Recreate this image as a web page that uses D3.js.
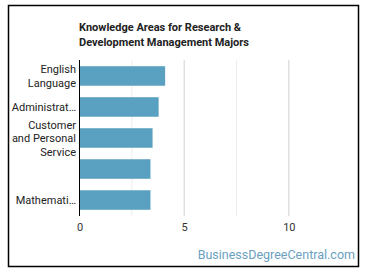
<!DOCTYPE html>
<html><head><meta charset="utf-8">
<script src="https://cdn.jsdelivr.net/npm/d3@7"></script>
<style>body{margin:0;background:#fff}svg{display:block;font-family:Roboto,"Open Sans",sans-serif}</style>
</head><body>
<svg id="c" width="370" height="278"></svg>
<script>
const categories = [["English","Language"],["Administrat…"],["Customer","and Personal","Service"],[""],["Mathemati…"]];
const values = [4.09, 3.78, 3.49, 3.39, 3.39];
const ticks = [0, 5, 10];
const minorTicks = [2.5, 7.5];
const titleLines = ["Knowledge Areas for Research &", "Development Management Majors"];

const svg = d3.select("#c");
svg.append("rect").attr("x",8.5).attr("y",5.5).attr("width",350).attr("height",261)
  .attr("fill","#fff").attr("stroke","#000").attr("stroke-width",1.5);

const x = d3.scaleLinear().domain([0, 12.5]).range([79.5, 341.2]);
const y = d3.scaleBand().domain(d3.range(values.length)).range([60, 216]).paddingInner(0.37).paddingOuter(0.2);

const g = svg.append("g");
g.selectAll(".minor").data(minorTicks).join("line")
  .attr("x1",d=>x(d)).attr("x2",d=>x(d)).attr("y1",60).attr("y2",216)
  .attr("stroke","#ececec").attr("stroke-width",1);
g.selectAll(".major").data(ticks.slice(1)).join("line")
  .attr("x1",d=>x(d)).attr("x2",d=>x(d)).attr("y1",60).attr("y2",216)
  .attr("stroke","#d0d0d0").attr("stroke-width",1);

g.selectAll("rect.bar").data(values).join("rect").attr("class","bar")
  .attr("x",x(0)).attr("y",(d,i)=>y(i)).attr("width",d=>x(d)-x(0)).attr("height",y.bandwidth())
  .attr("fill","#5aa0c0");

g.append("line").attr("x1",x(0)).attr("x2",x(0)).attr("y1",60).attr("y2",216).attr("stroke","#000").attr("stroke-width",1);

const xa = svg.append("g").attr("transform","translate(0,216)")
  .call(d3.axisBottom(x).tickValues(ticks).tickSize(0).tickPadding(7).tickFormat(d3.format("d")));
xa.select(".domain").remove();
xa.selectAll("text").attr("font-size",11).attr("fill","#333").attr("font-family","Roboto,sans-serif");

const lh = 13.5;
categories.forEach((lines,i)=>{
  const cy = y(i) + y.bandwidth()/2;
  const t = svg.append("text").attr("text-anchor","end").attr("font-size",11).attr("fill","#222");
  lines.forEach((ln,j)=>{
    t.append("tspan").attr("x",76).attr("y", cy + (j - (lines.length-1)/2)*lh + 4).text(ln);
  });
});

const tt = svg.append("text").attr("font-size",11).attr("font-weight","bold").attr("fill","#222");
titleLines.forEach((ln,j)=>tt.append("tspan").attr("x",79).attr("y",31+j*15).text(ln));

svg.append("text").attr("x",355).attr("y",259).attr("text-anchor","end").attr("font-size",12.5)
  .attr("fill","#6a9fc0").text("BusinessDegreeCentral.com");
</script>
</body></html>
